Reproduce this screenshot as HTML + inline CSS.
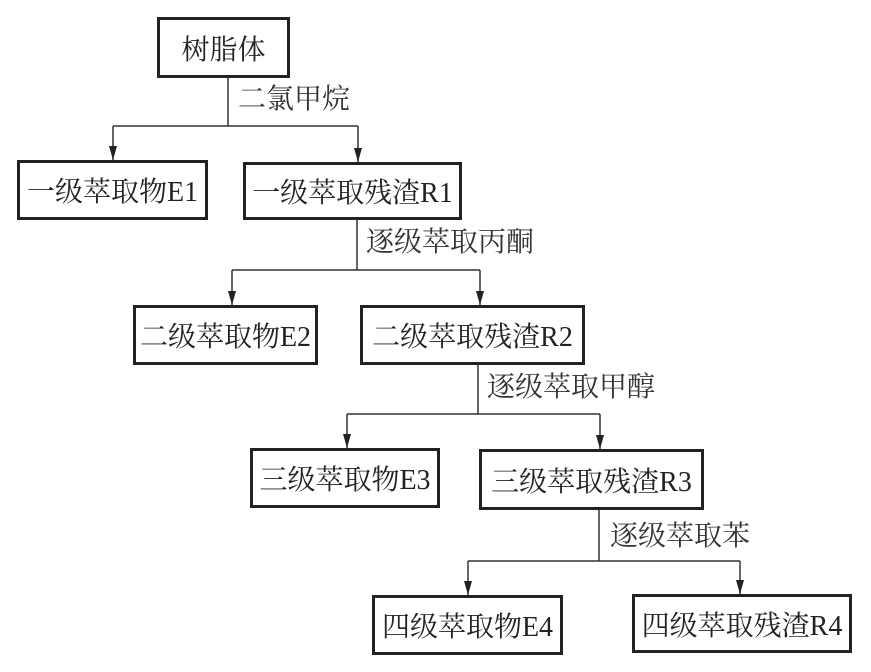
<!DOCTYPE html>
<html><head><meta charset="utf-8"><style>
body{margin:0;background:#fff;width:871px;height:672px;position:relative;overflow:hidden;font-family:"Liberation Serif","Noto Serif CJK SC","Noto Sans CJK SC",serif;color:#222}
.b{position:absolute;border:3px solid #222;box-sizing:border-box;display:flex;align-items:center;justify-content:center;font-size:28px;white-space:nowrap}
.l{position:absolute;font-size:28px;white-space:nowrap;color:#333;line-height:1}
svg{position:absolute;left:0;top:0}
</style></head><body>
<svg width="871" height="672" stroke="#333" stroke-width="1.5" fill="none">
<g>
<path d="M228,78V126M113,126H358"/><path d="M113,126V160M358,126V162"/>
<path d="M357,220V270M232,270H480"/><path d="M232,270V305M480,270V305"/>
<path d="M478,365V414M347,414H600"/><path d="M347,414V448M600,414V449"/>
<path d="M599,510V561M468,561H740"/><path d="M468,561V595M740,561V594"/>
</g>
<g fill="#222" stroke="none">
<path d="M109,146L117,146L113,160Z"/><path d="M354,148L362,148L358,162Z"/>
<path d="M228,291L236,291L232,305Z"/><path d="M476,291L484,291L480,305Z"/>
<path d="M343,434L351,434L347,448Z"/><path d="M596,435L604,435L600,449Z"/>
<path d="M464,581L472,581L468,595Z"/><path d="M736,580L744,580L740,594Z"/>
</g>
</svg>
<div class="b" style="left:157px;top:17px;width:133px;height:61px">树脂体</div>
<div class="l" style="left:238px;top:86px">二氯甲烷</div>
<div class="b" style="left:17px;top:160px;width:191px;height:60px">一级萃取物E1</div>
<div class="b" style="left:243px;top:162px;width:219px;height:58px">一级萃取残渣R1</div>
<div class="l" style="left:366px;top:229px">逐级萃取丙酮</div>
<div class="b" style="left:133px;top:305px;width:185px;height:60px">二级萃取物E2</div>
<div class="b" style="left:360px;top:305px;width:225px;height:60px">二级萃取残渣R2</div>
<div class="l" style="left:487px;top:374px">逐级萃取甲醇</div>
<div class="b" style="left:250px;top:448px;width:190px;height:60px">三级萃取物E3</div>
<div class="b" style="left:479px;top:449px;width:225px;height:61px">三级萃取残渣R3</div>
<div class="l" style="left:610px;top:523px">逐级萃取苯</div>
<div class="b" style="left:372px;top:595px;width:191px;height:60px">四级萃取物E4</div>
<div class="b" style="left:632px;top:594px;width:220px;height:59px">四级萃取残渣R4</div>
</body></html>
